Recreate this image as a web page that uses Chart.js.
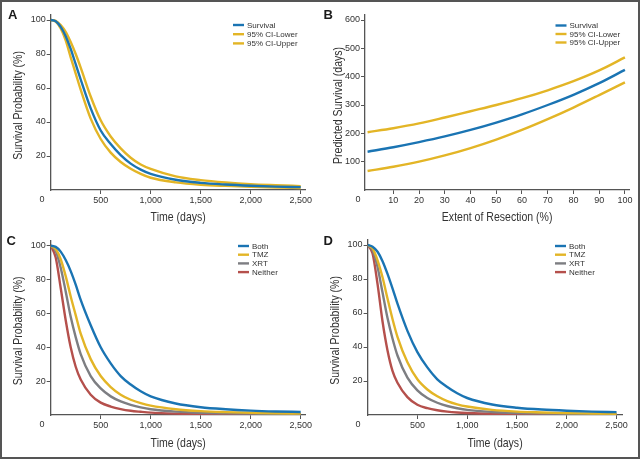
<!DOCTYPE html>
<html lang="en">
<head>
    <meta charset="UTF-8">
    <title>Survival Models</title>
    <script src="https://cdn.jsdelivr.net/npm/chart.js"></script>
    <style>
        body {
            margin: 0;
            background-color: #ffffff;
            font-family: "Liberation Sans", Arial, sans-serif;
        }
        .page {
            position: relative;
            width: 640px;
            height: 459px;
            overflow: hidden;
        }
        .page canvas {
            position: absolute;
        }
        .frame {
            position: absolute;
            left: 0;
            top: 0;
            width: 640px;
            height: 459px;
            box-sizing: border-box;
            border: 2px solid #555555;
            pointer-events: none;
        }
    </style>
</head>
<body>
<div class="page">
    <canvas id="chartA" width="320" height="226" style="left:0;top:0"></canvas>
    <canvas id="chartB" width="320" height="226" style="left:320px;top:0"></canvas>
    <canvas id="chartC" width="320" height="233" style="left:0;top:226px"></canvas>
    <canvas id="chartD" width="320" height="233" style="left:320px;top:226px"></canvas>
    <div class="frame"></div>
</div>

<script>
    // time points (days) shared by panels A, C, D
    const timeDays = [0, 50, 100, 150, 200, 250, 300, 400, 500, 600, 700, 800, 900, 1000, 1250, 1500, 1750, 2000, 2250, 2500];

    // panel A: survival with 95% CI
    const survivalA = [100, 99.3, 96, 90.5, 83, 74, 65, 48, 35, 27, 20.5, 15.5, 12, 9.5, 6, 4.2, 3.2, 2.5, 2, 1.7];
    const ciLowerA  = [100, 99, 95, 88, 78, 68.5, 59, 42, 30, 22, 16.5, 12.5, 9.5, 7.2, 4.5, 3.1, 2.4, 1.9, 1.5, 1.2];
    const ciUpperA  = [100, 99.5, 97, 93, 87, 80, 72, 55, 41, 31.5, 24.5, 19, 15, 12.4, 8, 5.8, 4.4, 3.4, 2.8, 2.3];

    // panel B: predicted survival vs extent of resection
    const resection = [0, 10, 20, 30, 40, 50, 60, 70, 80, 90, 100];
    const survivalB = [135, 151, 169, 189, 212, 238, 267, 300, 336, 377, 424];
    const ciLowerB  = [67, 82, 100, 122, 148, 178, 212, 250, 291, 335, 380];
    const ciUpperB  = [204, 218, 235, 256, 278, 300, 324, 352, 384, 422, 468];

    // panel C: by treatment
    const bothC    = [100, 99.3, 96.5, 91.5, 85, 77, 68, 53, 40, 30.5, 23, 18, 14, 11, 6.8, 4.6, 3.4, 2.6, 2.1, 1.8];
    const tmzC     = [100, 98, 92, 82, 70, 59, 48, 33, 23, 16.5, 12, 9, 7, 5.5, 3.4, 2.3, 1.7, 1.3, 1, 0.8];
    const xrtC     = [100, 97, 87, 73, 58, 46, 36, 23, 15.7, 11, 8, 6, 4.5, 3.4, 2, 1.3, 1, 0.8, 0.6, 0.5];
    const neitherC = [100, 93, 75, 56, 40, 28.5, 21, 12, 7.3, 5, 3.5, 2.5, 1.9, 1.4, 0.8, 0.5, 0.4, 0.3, 0.25, 0.2];

    // panel D: by treatment
    const bothD    = [100, 99, 96, 90.5, 83, 74.5, 65.5, 49.5, 37, 28, 21, 16.5, 12.8, 10, 6.2, 4.3, 3.2, 2.5, 2, 1.7];
    const tmzD     = [100, 98, 91, 81, 68.5, 56.5, 46, 31, 21, 15, 11, 8.2, 6.3, 5, 3, 2, 1.5, 1.1, 0.9, 0.7];
    const xrtD     = [100, 97, 87, 72, 57, 45, 35, 22, 14.5, 10, 7.2, 5.3, 4, 3, 1.8, 1.2, 0.9, 0.7, 0.6, 0.5];
    const neitherD = [100, 95, 77, 55, 38, 26, 19, 10.5, 6, 4, 2.8, 2, 1.5, 1.2, 0.7, 0.5, 0.4, 0.3, 0.25, 0.2];

    // tick labels
    const timeTicks = [500, 1000, 1500, 2000, 2500];
    const probTicks = [20, 40, 60, 80, 100];
    const resectionTicks = [10, 20, 30, 40, 50, 60, 70, 80, 90, 100];
    const daysTicks = [100, 200, 300, 400, 500, 600];

    const BLUE = '#1a74b3';
    const GOLD = '#e3b526';
    const GRAY = '#7d7e82';
    const RED = '#b5504c';
    const AXIS = '#555555';
    const TEXT = '#333333';
    const TICK_FONT = { family: '"Liberation Sans", Arial, sans-serif', size: 9 };

    const pairs = (xs, ys) => xs.map((x, i) => ({ x: x, y: ys[i] }));

    function line(label, xs, ys, color) {
        return {
            label: label,
            data: pairs(xs, ys),
            borderColor: color,
            backgroundColor: color,
            borderWidth: 2.4,
            pointRadius: 0,
            cubicInterpolationMode: 'monotone',
            fill: false
        };
    }

    function axis(o) {
        return {
            type: 'linear',
            min: o.min,
            max: o.max,
            border: { display: true, color: AXIS, width: 1.3 },
            grid: { display: true, drawOnChartArea: false, tickLength: 4, color: AXIS, lineWidth: 1 },
            ticks: {
                font: TICK_FONT,
                color: TEXT,
                padding: o.tickPad,
                maxRotation: 0,
                autoSkip: false,
                callback: v => v.toLocaleString('en-US')
            },
            // title is drawn narrow by panelDecor
            title: { display: false, text: o.title },
            afterBuildTicks: s => { s.ticks = o.ticks.map(v => ({ value: v })); },
            afterFit: s => {
                if (o.width !== undefined) s.width = o.width;
                if (o.height !== undefined) s.height = o.height;
            }
        };
    }

    // narrow axis titles, panel letter, corner "0" and the small legend
    const panelDecor = {
        id: 'panelDecor',
        afterDraw(chart, args, opts) {
            const ctx = chart.ctx;
            const area = chart.chartArea;
            const squeeze = 0.81;
            ctx.save();

            ctx.fillStyle = TEXT;
            ctx.font = '13px "Liberation Sans", Arial, sans-serif';
            ctx.textAlign = 'center';
            ctx.textBaseline = 'middle';
            ctx.save();
            ctx.translate((area.left + area.right) / 2, opts.xTitleY);
            ctx.scale(squeeze, 1);
            ctx.fillText(chart.options.scales.x.title.text, 0, 0);
            ctx.restore();
            ctx.save();
            ctx.translate(opts.yTitleX, (area.top + area.bottom) / 2 + 3);
            ctx.rotate(-Math.PI / 2);
            ctx.scale(squeeze, 1);
            ctx.fillText(chart.options.scales.y.title.text, 0, 0);
            ctx.restore();

            ctx.fillStyle = '#1a1a1a';
            ctx.font = 'bold 13px "Liberation Sans", Arial, sans-serif';
            ctx.textBaseline = 'alphabetic';
            ctx.textAlign = 'left';
            ctx.fillText(opts.letter, opts.letterX, opts.letterY);

            ctx.fillStyle = TEXT;
            ctx.font = '9px "Liberation Sans", Arial, sans-serif';
            ctx.textAlign = 'center';
            ctx.textBaseline = 'middle';
            ctx.fillText('0', opts.zeroX, area.bottom + 10);

            ctx.textAlign = 'left';
            ctx.font = '8px "Liberation Sans", Arial, sans-serif';
            chart.data.datasets.forEach((ds, i) => {
                const y = opts.legendY + i * opts.legendStep;
                ctx.strokeStyle = ds.borderColor;
                ctx.lineWidth = 2.4;
                ctx.beginPath();
                ctx.moveTo(opts.legendX, y);
                ctx.lineTo(opts.legendX + 11, y);
                ctx.stroke();
                ctx.fillStyle = TEXT;
                ctx.fillText(ds.label, opts.legendX + 14, y + 0.5);
            });
            ctx.restore();
        }
    };

    function makeChart(id, datasets, xAxis, yAxis, pad, decor) {
        return new Chart(document.getElementById(id), {
            type: 'line',
            data: { datasets: datasets },
            plugins: [panelDecor],
            options: {
                responsive: false,
                animation: false,
                layout: { padding: pad },
                scales: { x: xAxis, y: yAxis },
                plugins: {
                    legend: { display: false },
                    tooltip: { enabled: false },
                    panelDecor: decor
                }
            }
        });
    }

    makeChart('chartA',
        [line('Survival', timeDays, survivalA, BLUE),
         line('95% CI-Lower', timeDays, ciLowerA, GOLD),
         line('95% CI-Upper', timeDays, ciUpperA, GOLD)],
        axis({ min: 0, max: 2550, ticks: timeTicks, title: 'Time (days)', height: 36, tickPad: 1.5 }),
        axis({ min: 0, max: 103, ticks: probTicks, title: 'Survival Probability (%)', width: 50.7, tickPad: 1 }),
        { top: 14.9, right: 14.3, left: 0, bottom: 0 },
        { letter: 'A', letterX: 8, letterY: 18.5, zeroX: 42, xTitleY: 217, yTitleX: 18.3,
          legendX: 233, legendY: 25, legendStep: 9.2 });

    makeChart('chartB',
        [line('Survival', resection, survivalB, BLUE),
         line('95% CI-Lower', resection, ciLowerB, GOLD),
         line('95% CI-Upper', resection, ciUpperB, GOLD)],
        axis({ min: -1, max: 101.7, ticks: resectionTicks, title: 'Extent of Resection (%)', height: 36, tickPad: 1.5 }),
        axis({ min: 0, max: 618, ticks: daysTicks, title: 'Predicted Survival (days)', width: 45, tickPad: 1 }),
        { top: 14.9, right: 10.7, left: 0, bottom: 0 },
        { letter: 'B', letterX: 3.5, letterY: 19, zeroX: 38, xTitleY: 217, yTitleX: 18.3,
          legendX: 235.5, legendY: 25.5, legendStep: 8.5 });

    makeChart('chartC',
        [line('Both', timeDays, bothC, BLUE),
         line('TMZ', timeDays, tmzC, GOLD),
         line('XRT', timeDays, xrtC, GRAY),
         line('Neither', timeDays, neitherC, RED)],
        axis({ min: 0, max: 2550, ticks: timeTicks, title: 'Time (days)', height: 44, tickPad: 1.5 }),
        axis({ min: 0, max: 103, ticks: probTicks, title: 'Survival Probability (%)', width: 50.7, tickPad: 1 }),
        { top: 14.6, right: 14.3, left: 0, bottom: 0 },
        { letter: 'C', letterX: 6.5, letterY: 19, zeroX: 42, xTitleY: 217, yTitleX: 18.3,
          legendX: 238, legendY: 20, legendStep: 8.7 });

    makeChart('chartD',
        [line('Both', timeDays, bothD, BLUE),
         line('TMZ', timeDays, tmzD, GOLD),
         line('XRT', timeDays, xrtD, GRAY),
         line('Neither', timeDays, neitherD, RED)],
        axis({ min: 0, max: 2560, ticks: timeTicks, title: 'Time (days)', height: 44, tickPad: 1.5 }),
        axis({ min: 0, max: 103, ticks: probTicks, title: 'Survival Probability (%)', width: 47.6, tickPad: 1 }),
        { top: 13.9, right: 17.5, left: 0, bottom: 0 },
        { letter: 'D', letterX: 3.5, letterY: 18.5, zeroX: 38, xTitleY: 217.3, yTitleX: 15,
          legendX: 235, legendY: 20, legendStep: 8.7 });
</script>
</body>
</html>
